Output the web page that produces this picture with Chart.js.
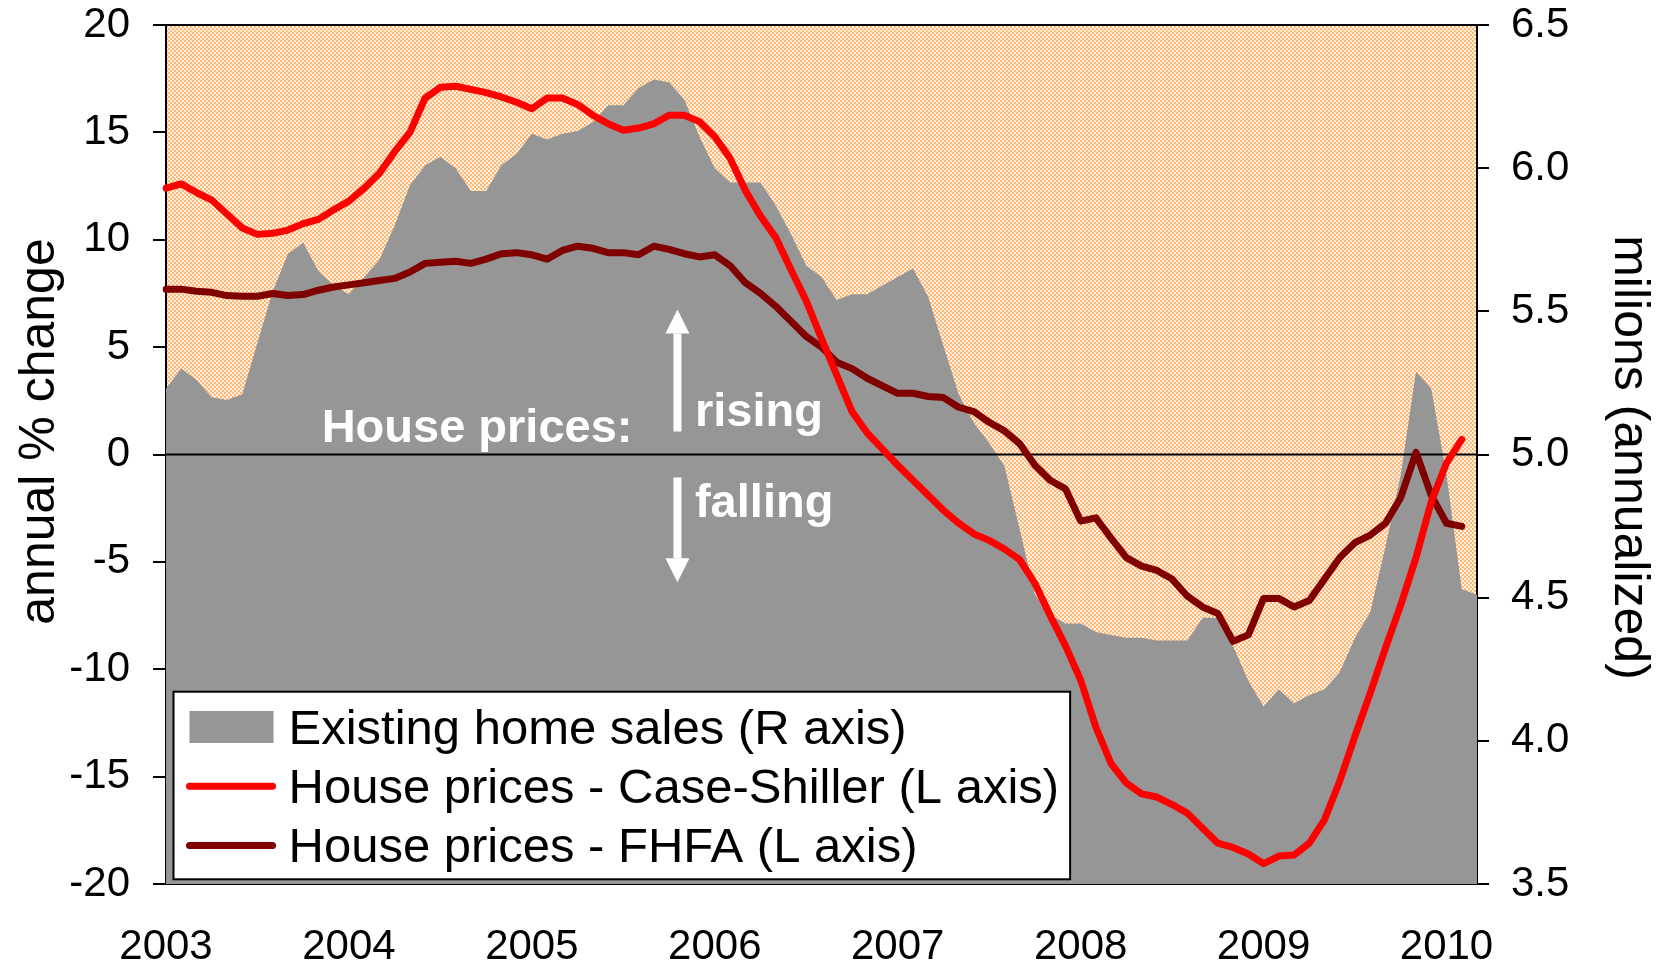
<!DOCTYPE html>
<html>
<head>
    <title>Existing home sales and house prices</title>
    <style>
        body {
            margin: 0;
            background: #ffffff;
        }

        #chart {
            display: block;
        }
    </style>
</head>
<body>
    <canvas id="chart" width="1661" height="965"></canvas>

    <script src="https://cdn.jsdelivr.net/npm/chart.js"></script>
    <script>
        // Tick labels of the time axis (one per January)
        var years = ['2003', '2004', '2005', '2006', '2007', '2008', '2009', '2010'];
        var monthsIn2010 = 3;

        // Existing home sales, millions annualized (R axis), Jan 2003 - Mar 2010
        var homeSales = [
            5.23, 5.30, 5.26, 5.20, 5.19, 5.21, 5.39, 5.57, 5.70, 5.74, 5.64, 5.59,
            5.56, 5.62, 5.68, 5.80, 5.94, 6.01, 6.04, 6.00, 5.92, 5.92, 6.01, 6.05,
            6.12, 6.10, 6.12, 6.13, 6.16, 6.22, 6.22, 6.28, 6.31, 6.30, 6.24, 6.11,
            6.00, 5.95, 5.95, 5.95, 5.87, 5.77, 5.66, 5.62, 5.54, 5.56, 5.56, 5.59,
            5.62, 5.65, 5.55, 5.38, 5.21, 5.11, 5.04, 4.96, 4.74, 4.51, 4.44, 4.41,
            4.41, 4.38, 4.37, 4.36, 4.36, 4.35, 4.35, 4.35, 4.43, 4.43, 4.33, 4.21,
            4.12, 4.18, 4.13, 4.16, 4.18, 4.24, 4.36, 4.45, 4.68, 4.93, 5.29, 5.23,
            4.93, 4.53, 4.51
        ];

        // House prices, annual % change (L axis), Jan 2003 - Feb 2010
        var caseShiller = [
            12.4, 12.6, 12.2, 11.85, 11.2, 10.55, 10.25, 10.3, 10.45, 10.75, 10.95, 11.4,
            11.8, 12.4, 13.1, 14.1, 15.0, 16.6, 17.1, 17.15, 17.0, 16.85, 16.65, 16.4,
            16.1, 16.6, 16.6, 16.3, 15.8, 15.4, 15.1, 15.2, 15.4, 15.8, 15.8, 15.5,
            14.8, 13.8, 12.3, 11.1, 10.1, 8.6, 7.15, 5.4, 3.7, 2.0, 1.0, 0.25,
            -0.5, -1.2, -1.9, -2.6, -3.2, -3.7, -4.0, -4.4, -4.9, -6.0, -7.5, -8.9,
            -10.5, -12.7, -14.4, -15.3, -15.8, -15.95, -16.3, -16.7, -17.4, -18.1, -18.3, -18.6,
            -19.05, -18.7, -18.65, -18.1, -17.0, -15.2, -13.1, -11.1, -9.0, -7.0, -4.8, -2.2,
            -0.4, 0.7
        ];

        var fhfa = [
            7.7, 7.7, 7.6, 7.55, 7.4, 7.37, 7.37, 7.5, 7.4, 7.45, 7.65, 7.8,
            7.9, 8.0, 8.1, 8.2, 8.5, 8.9, 8.95, 9.0, 8.9, 9.1, 9.35, 9.4,
            9.3, 9.1, 9.5, 9.7, 9.6, 9.4, 9.4, 9.3, 9.7, 9.55, 9.35, 9.2,
            9.3, 8.8, 8.0, 7.5, 6.9, 6.2, 5.5, 5.0, 4.3, 4.0, 3.55, 3.2,
            2.85, 2.85, 2.7, 2.65, 2.2, 2.0, 1.5, 1.1, 0.5, -0.5, -1.2, -1.6,
            -3.1, -2.95, -3.9, -4.8, -5.2, -5.4, -5.8, -6.6, -7.1, -7.4, -8.7, -8.4,
            -6.7, -6.7, -7.1, -6.8, -5.8, -4.8, -4.1, -3.75, -3.2, -2.0, 0.1, -1.9,
            -3.2, -3.35
        ];

        var seriesLabels = [
            'Existing home sales (R axis)',
            'House prices - Case-Shiller (L axis)',
            'House prices - FHFA (L axis)'
        ];

        // one category per month, labelled yyyy-mm
        var months = [];
        years.forEach(function (yr, k) {
            var n = (k === years.length - 1) ? monthsIn2010 : 12;
            for (var m = 1; m <= n; m++) {
                months.push(yr + '-' + (m < 10 ? '0' + m : m));
            }
        });

        var fontFamily = "'Liberation Sans', Arial, sans-serif";

        // where the white "House prices" note sits, in axis units (month index, L axis %)
        var note = {
            arrowAt: 33.55, upFrom: 1.07, upTo: 6.75, downFrom: -1.07, downTo: -5.95,
            labelEnd: 30.6, labelBase: 0.57, wordsAt: 34.7, risingBase: 1.35, fallingBase: -2.9
        };

        // peach checker used by the plot background
        var checker = document.createElement('canvas');
        checker.width = 4;
        checker.height = 4;
        var cctx = checker.getContext('2d');
        cctx.fillStyle = '#ffefdf';
        cctx.fillRect(0, 0, 4, 4);
        cctx.fillStyle = '#ffb97a';
        cctx.fillRect(0, 0, 2, 2);
        cctx.fillRect(2, 2, 2, 2);

        function drawArrow(ctx, x, yFrom, yTip) {
            var dir = yTip < yFrom ? -1 : 1;
            var head = 24, half = 12, shaft = 8;
            var yBase = yTip - dir * head;
            ctx.fillRect(x - shaft / 2, Math.min(yFrom, yBase), shaft, Math.abs(yBase - yFrom));
            ctx.beginPath();
            ctx.moveTo(x, yTip);
            ctx.lineTo(x - half, yBase);
            ctx.lineTo(x + half, yBase);
            ctx.closePath();
            ctx.fill();
        }

        function drawLegend(chart) {
            var ctx = chart.ctx, a = chart.chartArea;
            var ds = chart.data.datasets;
            ctx.save();
            ctx.font = '49px ' + fontFamily;
            var maxW = 0;
            ds.forEach(function (d) {
                maxW = Math.max(maxW, ctx.measureText(d.label).width);
            });
            var left = a.left + 7.5;
            var bottom = a.bottom - 4.7;
            var top = bottom - 187.6;
            var textX = left + 115;
            var width = textX - left + maxW + 11;
            ctx.fillStyle = '#ffffff';
            ctx.fillRect(left, top, width, bottom - top);
            ctx.strokeStyle = '#000000';
            ctx.lineWidth = 2;
            ctx.strokeRect(left, top, width, bottom - top);
            ds.forEach(function (d, k) {
                var cy = top + 35.3 + k * 59.3;
                if (d.fill) {
                    ctx.fillStyle = d.backgroundColor;
                    ctx.fillRect(left + 16, cy - 16, 84, 32);
                } else {
                    ctx.strokeStyle = d.borderColor;
                    ctx.lineWidth = 7;
                    ctx.lineCap = 'round';
                    ctx.beginPath();
                    ctx.moveTo(left + 16, cy);
                    ctx.lineTo(left + 99, cy);
                    ctx.stroke();
                }
                ctx.fillStyle = '#000000';
                ctx.textAlign = 'left';
                ctx.textBaseline = 'alphabetic';
                ctx.fillText(d.label, textX, cy + 16.5);
            });
            ctx.restore();
        }

        var decorations = {
            id: 'decorations',
            beforeDraw: function (chart) {
                var a = chart.chartArea, ctx = chart.ctx;
                ctx.save();
                ctx.fillStyle = ctx.createPattern(checker, 'repeat');
                ctx.fillRect(a.left, a.top, a.right - a.left, a.bottom - a.top);
                ctx.restore();
            },
            afterDatasetDraw: function (chart, args) {
                if (args.index !== 0) return;
                // category axis crosses at 0: over the sales area, under the price lines
                var a = chart.chartArea, ctx = chart.ctx;
                var y0 = chart.scales.y.getPixelForValue(0);
                ctx.save();
                ctx.strokeStyle = '#000000';
                ctx.lineWidth = 2;
                ctx.beginPath();
                ctx.moveTo(a.left, y0);
                ctx.lineTo(a.right, y0);
                ctx.stroke();
                ctx.restore();
            },
            afterDraw: function (chart) {
                var a = chart.chartArea, ctx = chart.ctx;
                var xs = chart.scales.x, ys = chart.scales.y;

                // top edge of the plot
                ctx.save();
                ctx.strokeStyle = '#000000';
                ctx.lineWidth = 2;
                ctx.beginPath();
                ctx.moveTo(a.left, a.top);
                ctx.lineTo(a.right, a.top);
                ctx.stroke();

                // white note
                ctx.fillStyle = '#ffffff';
                var ax = xs.getPixelForValue(note.arrowAt);
                drawArrow(ctx, ax, ys.getPixelForValue(note.upFrom), ys.getPixelForValue(note.upTo));
                drawArrow(ctx, ax, ys.getPixelForValue(note.downFrom), ys.getPixelForValue(note.downTo));
                ctx.font = 'bold 47px ' + fontFamily;
                ctx.textBaseline = 'alphabetic';
                ctx.textAlign = 'right';
                ctx.fillText('House prices:', xs.getPixelForValue(note.labelEnd), ys.getPixelForValue(note.labelBase));
                ctx.textAlign = 'left';
                ctx.fillText('rising', xs.getPixelForValue(note.wordsAt), ys.getPixelForValue(note.risingBase));
                ctx.fillText('falling', xs.getPixelForValue(note.wordsAt), ys.getPixelForValue(note.fallingBase));

                // axis titles
                var mid = (a.top + a.bottom) / 2;
                ctx.fillStyle = '#000000';
                ctx.font = '50px ' + fontFamily;
                ctx.textAlign = 'center';
                ctx.save();
                ctx.translate(54, mid - 23);
                ctx.rotate(-Math.PI / 2);
                ctx.fillText('annual % change', 0, 0);
                ctx.restore();
                ctx.save();
                ctx.translate(a.right + 138, mid + 3);
                ctx.rotate(Math.PI / 2);
                ctx.fillText('milions (annualized)', 0, 0);
                ctx.restore();
                ctx.restore();

                drawLegend(chart);
            }
        };

        var tickFont = { family: fontFamily, size: 42 };

        // keep the plot edges where the axes are, not where the tick labels would push them
        function fixWidth(w) {
            return function (s) {
                s.width = w;
                s.paddingTop = 0;
                s.paddingBottom = 0;
            };
        }

        new Chart(document.getElementById('chart').getContext('2d'), {
            type: 'line',
            data: {
                labels: months,
                datasets: [{
                    label: seriesLabels[0],
                    data: homeSales,
                    yAxisID: 'y2',
                    fill: 'start',
                    backgroundColor: '#969696',
                    borderWidth: 0,
                    pointRadius: 0,
                    order: 3
                }, {
                    label: seriesLabels[1],
                    data: caseShiller,
                    yAxisID: 'y',
                    fill: false,
                    borderColor: '#ff0000',
                    borderWidth: 7,
                    borderJoinStyle: 'round',
                    borderCapStyle: 'round',
                    pointRadius: 0,
                    order: 1
                }, {
                    label: seriesLabels[2],
                    data: fhfa,
                    yAxisID: 'y',
                    fill: false,
                    borderColor: '#800000',
                    borderWidth: 7,
                    borderJoinStyle: 'round',
                    borderCapStyle: 'round',
                    pointRadius: 0,
                    order: 2
                }]
            },
            options: {
                responsive: false,
                animation: false,
                events: [],
                layout: { padding: { top: 25, left: 0, right: 0, bottom: 0 } },
                plugins: {
                    legend: { display: false },
                    tooltip: { enabled: false }
                },
                scales: {
                    x: {
                        type: 'category',
                        offset: false,
                        z: 1,
                        grid: { display: false },
                        border: { display: true, color: '#000000', width: 2 },
                        ticks: {
                            autoSkip: false,
                            maxRotation: 0,
                            padding: 30,
                            color: '#000000',
                            font: tickFont,
                            callback: function (val) {
                                var lab = this.getLabelForValue(val);
                                return lab.slice(5) === '01' ? lab.slice(0, 4) : null;
                            }
                        },
                        afterFit: function (s) { s.height = 81; }
                    },
                    y: {
                        position: 'left',
                        min: -20,
                        max: 20,
                        z: 1,
                        ticks: { stepSize: 5, padding: 23, color: '#000000', font: tickFont },
                        grid: {
                            drawOnChartArea: false, drawTicks: true, tickLength: 13,
                            tickColor: '#000000', tickWidth: 2, color: '#000000', lineWidth: 2
                        },
                        border: { display: true, color: '#000000', width: 2 },
                        afterFit: fixWidth(166)
                    },
                    y2: {
                        position: 'right',
                        min: 3.5,
                        max: 6.5,
                        z: 1,
                        ticks: {
                            stepSize: 0.5, padding: 22, color: '#000000', font: tickFont,
                            callback: function (v) { return v.toFixed(1); }
                        },
                        grid: {
                            drawOnChartArea: false, drawTicks: true, tickLength: 12,
                            tickColor: '#000000', tickWidth: 2, color: '#000000', lineWidth: 2
                        },
                        border: { display: true, color: '#000000', width: 2 },
                        afterFit: fixWidth(184)
                    }
                }
            },
            plugins: [decorations]
        });
    </script>
</body>
</html>
